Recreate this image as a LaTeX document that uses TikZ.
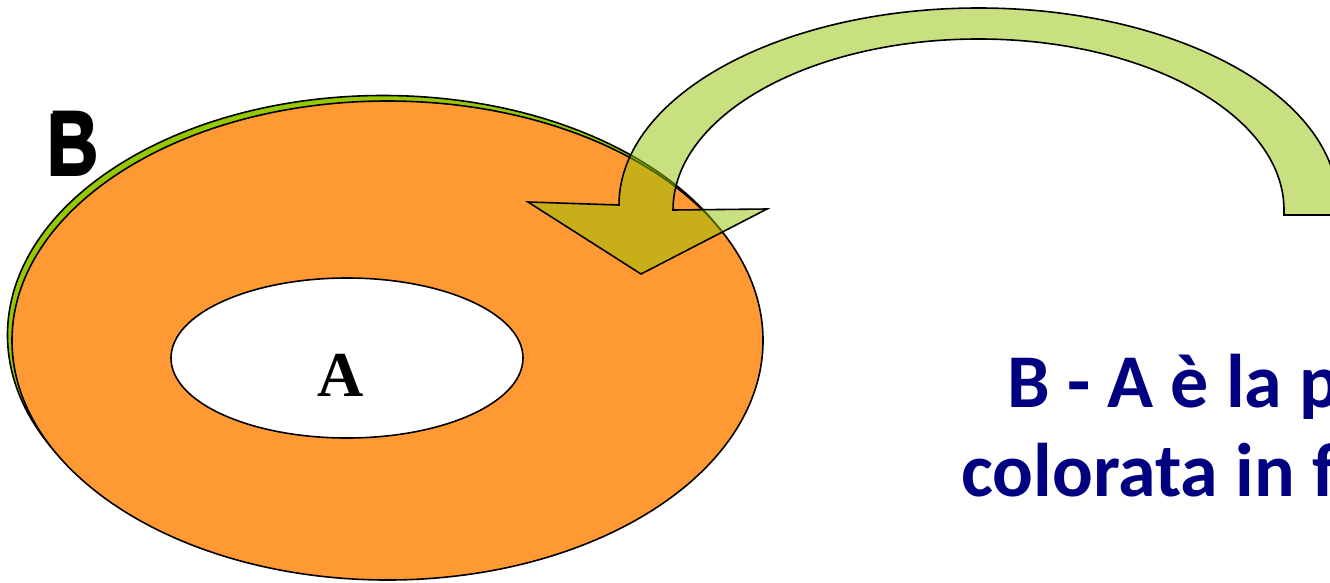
\documentclass[tikz,border=0pt]{standalone}
\usepackage{fontspec}
\setmainfont{Liberation Serif}
\newfontfamily\calib{Carlito}
\newfontfamily\arialf{Liberation Sans}
\usetikzlibrary{shapes.geometric}
\definecolor{orangefill}{RGB}{255,153,51}
\definecolor{ringgreen}{RGB}{150,200,0}
\definecolor{arrowgreen}{RGB}{147,195,1}
\definecolor{textnavy}{RGB}{0,0,128}
\begin{document}
\begin{tikzpicture}[x=0.75pt,y=-0.75pt,
  outline/.style={draw=black,line width=1.2pt},
  bigell/.style={ellipse,outline,inner sep=0pt,minimum width=563.25pt,minimum height=359.25pt},
  bodytext/.style={anchor=base west,text=textnavy,inner sep=0pt,font=\calib\bfseries\fontsize{57}{57}\selectfont}]
\useasboundingbox (0,0) rectangle (1330,582);
\fill[white] (0,0) rectangle (1330,582);
% set B (green rim) and orange region
\node[bigell,fill=ringgreen] (Bring) at (383,335) {};
\node[bigell,fill=orangefill] (Bset) at (387.5,340.5) {};
% set A
\node[ellipse,outline,fill=white,inner sep=0pt,minimum width=264pt,minimum height=120pt] (Aset) at (347,358) {};
\node[inner sep=0pt,font=\bfseries\fontsize{48}{48}\selectfont] (labelA) at (340.5,375) {A};
% label B with slight shadow
\node[inner sep=0pt,xscale=0.78,font=\arialf\bfseries\fontsize{68}{68}\selectfont] (labelBs) at (72,145) {B};
\node[inner sep=0pt,xscale=0.78,font=\arialf\bfseries\fontsize{68}{68}\selectfont] (labelB) at (74,142.5) {B};
% curved arrow
\draw[outline,fill=arrowgreen,fill opacity=0.5]
  (528,202) -- (619,205)
  arc[start angle=180,end angle=360,x radius=359.5,y radius=197]
  -- (1338,215) -- (1284,215) -- (1284,210)
  arc[start angle=0,end angle=-180,x radius=305.5,y radius=171]
  -- (767,209) -- (641,274) -- cycle;
% text
\node[bodytext] (line1) at (1007,407) {B - A è la p};
\node[bodytext] (line2) at (961,496) {colorata in f};
\end{tikzpicture}
\end{document}
